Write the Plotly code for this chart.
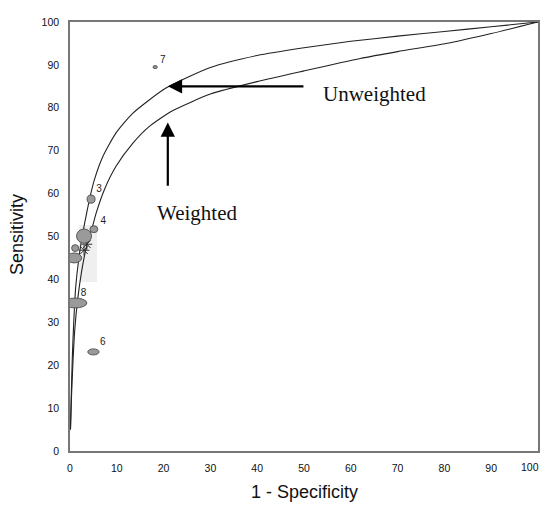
import plotly.graph_objects as go

# Summary ROC curves (1 - specificity vs sensitivity, %)
unweighted_x = [0.1, 0.25, 0.5, 0.8, 1.2, 1.9, 2.6, 3.4, 4.3, 5.2, 7.0, 9.8, 13.4, 20.5, 30, 40, 50, 60, 70, 80, 90, 100]
unweighted_y = [5, 12, 22, 30, 38, 45, 50, 54.6, 59.3, 63.2, 68.6, 74.1, 78.7, 84.6, 89.4, 92.2, 94.0, 95.5, 96.7, 97.8, 98.9, 100]
weighted_x = [0.1, 0.3, 0.6, 1.0, 1.6, 2.5, 3.6, 4.8, 5.6, 7.3, 9.8, 13.4, 16.9, 21.9, 30, 40, 50, 62, 70, 81, 90, 100]
weighted_y = [5, 12, 20, 28, 35, 42, 48, 52.3, 55.5, 60.8, 66.3, 71.7, 75.6, 79.3, 83.2, 86.1, 88.6, 91.5, 93.1, 95.1, 97.3, 100]

# Individual studies: centre (x, y) and ellipse size (width, height) in % units
study_x = [18.2, 4.5, 5.1, 3.0, 0.9, 1.1, 1.1, 5.0]
study_y = [89.5, 58.7, 51.7, 50.1, 45.0, 47.3, 34.5, 23.1]
study_w = [0.9, 1.7, 1.7, 3.2, 3.2, 1.5, 5.0, 2.4]
study_h = [0.7, 1.9, 1.6, 3.3, 2.3, 1.6, 2.3, 1.4]

label_text = ["7", "3", "4", "8", "6"]
label_x = [19.8, 6.2, 7.1, 2.9, 7.0]
label_y = [91.0, 61.0, 53.5, 36.6, 25.2]

star_x = [3.0, 3.6]
star_y = [46.8, 48.2]

box_x = [1.9, 5.8]
box_y = [39.4, 52.7]

# axis ticks
tick_vals = [0, 10, 20, 30, 40, 50, 60, 70, 80, 90, 100]
tick_text = ["0", "10", "20", "30", "40", "50", "60", "70", "80", "90", "100"]

fig = go.Figure()

# light shaded box
fig.add_shape(type="rect", x0=box_x[0], x1=box_x[1], y0=box_y[0], y1=box_y[1],
              fillcolor="#efefef", line=dict(width=0), layer="below")

for cx, cy, w, h in zip(study_x, study_y, study_w, study_h):
    fig.add_shape(type="circle", x0=cx - w / 2, x1=cx + w / 2, y0=cy - h / 2, y1=cy + h / 2,
                  fillcolor="#9a9a9a", line=dict(color="#555555", width=1), layer="above")

fig.add_trace(go.Scatter(x=unweighted_x, y=unweighted_y, mode="lines",
                         line=dict(color="#222222", width=1.1, shape="spline", smoothing=0.6),
                         showlegend=False, hoverinfo="skip"))
fig.add_trace(go.Scatter(x=weighted_x, y=weighted_y, mode="lines",
                         line=dict(color="#222222", width=1.1, shape="spline", smoothing=0.6),
                         showlegend=False, hoverinfo="skip"))

fig.add_trace(go.Scatter(x=star_x, y=star_y, mode="markers",
                         marker=dict(symbol="asterisk-open", size=9, color="#333333", line=dict(width=1, color="#333333")),
                         showlegend=False, hoverinfo="skip"))

fig.add_trace(go.Scatter(x=label_x, y=label_y, mode="text", text=label_text,
                         textfont=dict(family="Liberation Sans, Arial", size=10, color="#222222"),
                         showlegend=False, hoverinfo="skip"))

# annotations with arrows
fig.add_annotation(x=20.9, y=85.0, ax=50.2, ay=85.0, xref="x", yref="y", axref="x", ayref="y",
                   showarrow=True, arrowhead=2, arrowsize=1.3, arrowwidth=2.2, arrowcolor="#000000", text="")
fig.add_annotation(x=53.6, y=83.2, xref="x", yref="y", text="Unweighted", showarrow=False,
                   xanchor="left", yanchor="middle",
                   font=dict(family="Liberation Serif, Times New Roman", size=21, color="#111111"))
fig.add_annotation(x=20.9, y=76.6, ax=20.9, ay=61.5, xref="x", yref="y", axref="x", ayref="y",
                   showarrow=True, arrowhead=2, arrowsize=1.3, arrowwidth=2.2, arrowcolor="#000000", text="")
fig.add_annotation(x=27.2, y=55.5, xref="x", yref="y", text="Weighted", showarrow=False,
                   xanchor="center", yanchor="middle",
                   font=dict(family="Liberation Serif, Times New Roman", size=21, color="#111111"))

# axis titles
fig.add_annotation(xref="paper", yref="paper", x=0.5, y=-0.095, text="1 - Specificity", showarrow=False,
                   xanchor="center", yanchor="middle",
                   font=dict(family="Liberation Sans, Arial", size=18, color="#111111"))
fig.add_annotation(xref="paper", yref="paper", x=-0.112, y=0.505, text="Sensitivity", showarrow=False,
                   textangle=-90, xanchor="center", yanchor="middle",
                   font=dict(family="Liberation Sans, Arial", size=18, color="#111111"))

tick_font = dict(family="Liberation Sans, Arial", size=10.5, color="#111111")

# last x tick label drawn right-aligned so it stays inside the visible page
fig.add_annotation(xref="x", yref="paper", x=tick_vals[-1], y=-0.038, text=tick_text[-1], showarrow=False,
                   xanchor="right", yanchor="middle", xshift=3, font=tick_font)

axis_common = dict(range=[0, 100], showgrid=False, zeroline=False,
                   showline=True, linecolor="#777777", linewidth=1.5, mirror=True,
                   ticks="", ticklabelstandoff=7, automargin=False,
                   tickfont=tick_font, fixedrange=True)

# the page body adds an 8 px margin, so the figure is sized to fit inside it
fig.update_layout(
    width=533, height=495,
    margin=dict(l=62, r=3, t=14, b=52),
    paper_bgcolor="white", plot_bgcolor="white",
    xaxis=dict(**axis_common, tickmode="array", tickvals=tick_vals,
               ticktext=tick_text[:-1] + [""]),
    yaxis=dict(**axis_common, tickmode="array", tickvals=tick_vals, ticktext=tick_text),
)

fig.write_html("out.html")
